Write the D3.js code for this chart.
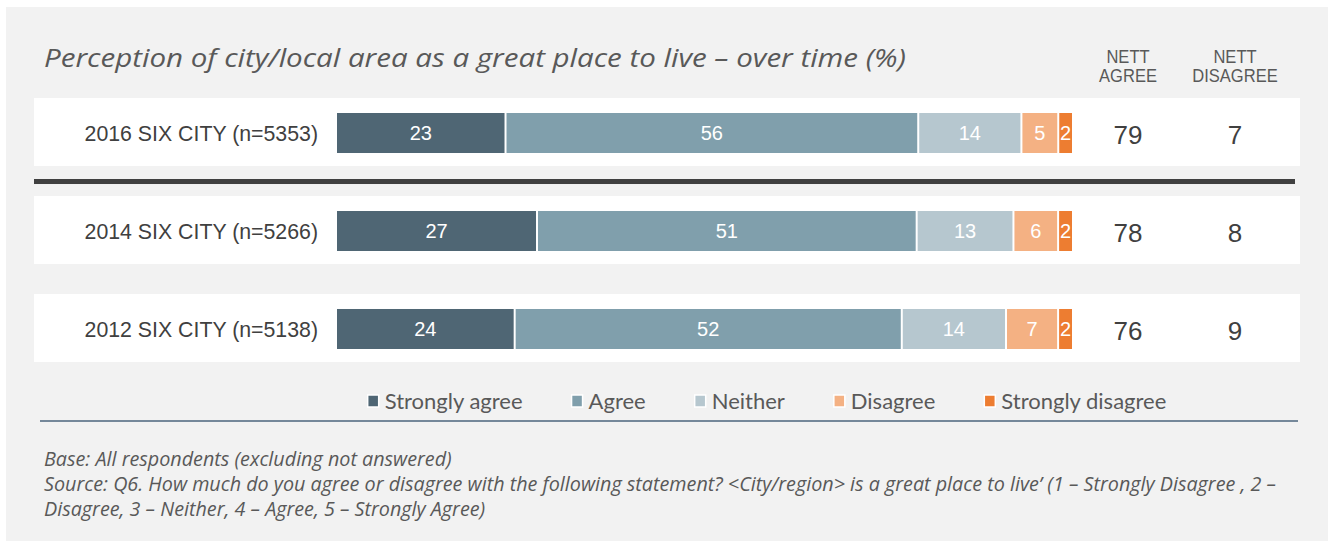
<!DOCTYPE html>
<html>
<head>
<meta charset="utf-8">
<script src="https://cdn.jsdelivr.net/npm/d3@7"></script>
<style>
  html, body { margin: 0; padding: 0; background: #ffffff; }
  svg { display: block; }
</style>
</head>
<body>
<svg id="chart" width="1333" height="543"></svg>
<script>
// Survey rows (top to bottom)
const categories = ["2016 SIX CITY (n=5353)", "2014 SIX CITY (n=5266)", "2012 SIX CITY (n=5138)"];
const seriesNames = ["Strongly agree", "Agree", "Neither", "Disagree", "Strongly disagree"];
const stronglyAgree = [23, 27, 24];
const agree = [56, 51, 52];
const neither = [14, 13, 14];
const disagree = [5, 6, 7];
const stronglyDisagree = [2, 2, 2];
const nettAgree = [79, 78, 76];
const nettDisagree = [7, 8, 9];
const nettHeaders = [["NETT", "AGREE"], ["NETT", "DISAGREE"]];
const colors = ["#4f6674", "#809fac", "#b6c7cf", "#f4b183", "#ed7d31"];

const titleText = "Perception of city/local area as a great place to live \u2013 over time (%)";
const footerLines = [
  "Base: All respondents (excluding not answered)",
  "Source: Q6. How much do you agree or disagree with the following statement? <City/region> is a great place to live\u2019 (1 \u2013 Strongly Disagree , 2 \u2013",
  "Disagree, 3 \u2013 Neither, 4 \u2013 Agree, 5 \u2013 Strongly Agree)"
];

const table = categories.map((c, i) => ({
  category: c,
  "Strongly agree": stronglyAgree[i],
  "Agree": agree[i],
  "Neither": neither[i],
  "Disagree": disagree[i],
  "Strongly disagree": stronglyDisagree[i],
  nettAgree: nettAgree[i],
  nettDisagree: nettDisagree[i]
}));

const svg = d3.select("#chart");
const textDark = "#404040";
const textMid = "#595959";

// panel background
svg.append("rect").attr("x", 6).attr("y", 7).attr("width", 1322).attr("height", 534).attr("fill", "#f2f2f2");

// title, fitted to its line width
svg.append("text")
  .attr("x", 44).attr("y", 67)
  .attr("font-family", "'Open Sans', sans-serif")
  .attr("font-style", "italic")
  .attr("font-size", 26)
  .attr("fill", textMid)
  .attr("textLength", 862).attr("lengthAdjust", "spacingAndGlyphs")
  .text(titleText);

// scales
const y = d3.scaleBand().domain(categories).range([98, 362]).paddingInner(0.306).paddingOuter(0);
const x = d3.scaleLinear().domain([0, 1]).range([337, 1074]);
const color = d3.scaleOrdinal().domain(seriesNames).range(colors);
const nettX = d3.scaleOrdinal().domain(["agree", "disagree"]).range([1128, 1235]);

const stack = d3.stack().keys(seriesNames).offset(d3.stackOffsetExpand);
const stacked = stack(table);

// white row backgrounds
svg.append("g").selectAll("rect").data(categories).join("rect")
  .attr("x", 34).attr("width", 1266)
  .attr("y", d => y(d)).attr("height", y.bandwidth())
  .attr("fill", "#ffffff");

// separator below the latest wave
svg.append("rect")
  .attr("x", 34).attr("width", 1261)
  .attr("y", y(categories[0]) + y.bandwidth() + 13).attr("height", 5)
  .attr("fill", "#404040");

// row labels
svg.append("g").selectAll("text").data(categories).join("text")
  .attr("x", 318)
  .attr("y", d => y(d) + y.bandwidth() / 2 + 1)
  .attr("dy", "0.36em")
  .attr("text-anchor", "end")
  .attr("font-family", "'Liberation Sans', Arial, sans-serif")
  .attr("font-size", 21.3)
  .attr("fill", textDark)
  .text(d => d);

// stacked bars
const barH = 40;
const segs = svg.append("g").selectAll("g").data(stacked).join("g")
  .attr("fill", d => color(d.key));

segs.selectAll("rect").data(d => d.map(p => ({ key: d.key, p }))).join("rect")
  .attr("x", d => x(d.p[0]))
  .attr("width", d => Math.max(0, x(d.p[1]) - x(d.p[0]) - 2))
  .attr("y", d => y(d.p.data.category) + (y.bandwidth() - barH) / 2 + 1)
  .attr("height", barH);

segs.selectAll("text").data(d => d.map(p => ({ key: d.key, p }))).join("text")
  .attr("x", d => (x(d.p[0]) + x(d.p[1]) - 2) / 2)
  .attr("y", d => y(d.p.data.category) + y.bandwidth() / 2 + 1)
  .attr("dy", "0.36em")
  .attr("text-anchor", "middle")
  .attr("font-family", "'Liberation Sans', Arial, sans-serif")
  .attr("font-size", 20)
  .attr("fill", "#ffffff")
  .text(d => d.p.data[d.key]);

// nett headers (condensed horizontally)
const hdr = svg.append("g").selectAll("g").data(nettHeaders).join("g")
  .attr("transform", (d, i) => `translate(${nettX(i === 0 ? "agree" : "disagree")},0) scale(0.87,1)`);
hdr.selectAll("text").data(d => d).join("text")
  .attr("x", 0)
  .attr("y", (d, i) => 63 + i * 19)
  .attr("text-anchor", "middle")
  .attr("font-family", "'Liberation Sans', Arial, sans-serif")
  .attr("font-size", 19)
  .attr("fill", textMid)
  .text(d => d);

// nett values
["agree", "disagree"].forEach(k => {
  svg.append("g").selectAll("text").data(table).join("text")
    .attr("x", nettX(k))
    .attr("y", d => y(d.category) + y.bandwidth() / 2 + 3)
    .attr("dy", "0.36em")
    .attr("text-anchor", "middle")
    .attr("font-family", "'Liberation Sans', Arial, sans-serif")
    .attr("font-size", 26)
    .attr("fill", textDark)
    .text(d => k === "agree" ? d.nettAgree : d.nettDisagree);
});

// legend
const legend = svg.append("g");
let lx = 0;
seriesNames.forEach(name => {
  const g = legend.append("g").attr("transform", `translate(${lx},0)`);
  g.append("rect").attr("x", 0).attr("y", -6).attr("width", 11).attr("height", 12)
    .attr("fill", color(name)).attr("stroke", "#ffffff").attr("stroke-width", 1.5);
  const t = g.append("text").attr("x", 17).attr("y", 0).attr("dy", "0.35em")
    .attr("font-family", "Lato, 'Open Sans', sans-serif")
    .attr("font-size", 22)
    .attr("fill", textMid)
    .text(name);
  lx += 17 + t.node().getComputedTextLength() + 49;
});
const legendW = lx - 49;
legend.attr("transform", `translate(${767 - legendW / 2},401)`);

svg.append("rect").attr("x", 40).attr("y", 420).attr("width", 1258).attr("height", 2).attr("fill", "#75889a");

// footer notes, sized so the long source line spans the panel
const foot = svg.append("g").attr("font-family", "'Open Sans', sans-serif")
  .attr("font-style", "italic").attr("fill", textMid);
const probe = foot.append("text").attr("font-size", 16).text(footerLines[1]);
const fs = 16 * 1233 / probe.node().getComputedTextLength();
probe.remove();
foot.selectAll("text").data(footerLines).join("text")
  .attr("x", 44)
  .attr("y", (d, i) => 466 + i * 25)
  .attr("font-size", fs)
  .text(d => d);
</script>
</body>
</html>
